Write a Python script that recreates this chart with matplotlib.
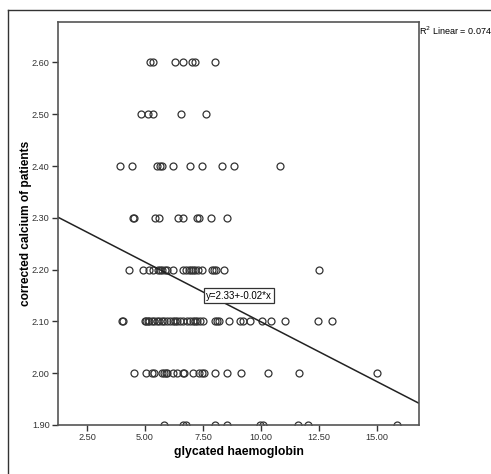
import matplotlib
matplotlib.use("Agg")
import matplotlib.pyplot as plt
from matplotlib.lines import Line2D
import numpy as np

plt.rcParams['font.family'] = ['Liberation Sans', 'DejaVu Sans']

# x values (glycated haemoglobin) for each calcium level
ca_levels = [2.60, 2.50, 2.40, 2.30, 2.20, 2.10, 2.00, 1.90]
hba1c_rows = [
    [5.22, 5.33, 6.29, 6.62, 7.01, 7.13, 8.02],
    [4.81, 5.14, 5.33, 6.54, 7.63],
    [3.92, 4.43, 5.53, 5.65, 5.72, 6.22, 6.94, 7.44, 8.33, 8.81, 10.82],
    [4.50, 4.52, 5.43, 5.60, 6.44, 6.62, 7.23, 7.34, 7.83, 8.52],
    [4.32, 4.93, 5.15, 5.36, 5.55, 5.65, 5.72, 5.85, 5.96, 6.22, 6.62, 6.77,
     6.90, 6.98, 7.06, 7.16, 7.30, 7.44, 7.88, 7.97, 8.06, 8.42, 12.51],
    [4.00, 4.04, 5.00, 5.06, 5.12, 5.19, 5.29, 5.40, 5.50, 5.62, 5.72, 5.82,
     5.94, 6.08, 6.22, 6.30, 6.37, 6.51, 6.65, 6.80, 6.94, 7.06, 7.16, 7.25,
     7.37, 7.49, 8.02, 8.09, 8.20, 8.63, 9.09, 9.21, 9.53, 10.03, 10.42,
     11.03, 12.43, 13.05],
    [4.53, 5.04, 5.29, 5.40, 5.72, 5.82, 5.91, 5.96, 6.22, 6.39, 6.62, 6.68,
     7.06, 7.34, 7.44, 7.54, 8.02, 8.52, 9.13, 10.31, 11.64, 15.01],
    [5.83, 6.62, 6.77, 8.02, 8.52, 9.96, 10.06, 11.60, 12.04, 15.85],
]

# fit line as drawn
intercept = 2.33
slope = -0.0231
xticks = [2.5, 5.0, 7.5, 10.0, 12.5, 15.0]
yticks = [1.90, 2.00, 2.10, 2.20, 2.30, 2.40, 2.50, 2.60]

x = []
y = []
for lev, row in zip(ca_levels, hba1c_rows):
    x += row
    y += [lev] * len(row)
x = np.array(x)
y = np.array(y)

fig = plt.figure(figsize=(4.91, 4.74), dpi=100)
ax = fig.add_axes([58/491, 1 - 425/474, (419 - 58)/491, (425 - 22)/474])

ax.plot(x, y, linestyle='none', marker='o', markersize=5, markerfacecolor='none',
        markeredgecolor='#333333', markeredgewidth=0.9)

xlim = (1.25, 16.8)
ylim = (1.90, 2.678)
lx = np.array(xlim)
ax.plot(lx, intercept + slope * lx, color='#222222', linewidth=1.1)
ax.set_xlim(xlim)
ax.set_ylim(ylim)

ax.set_xticks(xticks)
ax.set_xticklabels(['%.2f' % t for t in xticks])
ax.set_yticks(yticks)
ax.set_yticklabels(['%.2f' % t for t in yticks])
ax.tick_params(direction='out', length=4, width=1, labelsize=6.6, colors='#333333',
               pad=2)
for s in ax.spines.values():
    s.set_color('#555555')
    s.set_linewidth(1.2)

ax.set_xlabel('glycated haemoglobin', fontsize=8.8, fontweight='bold', labelpad=3)
ax.set_ylabel('corrected calcium of patients', fontsize=8.6, fontweight='bold',
              labelpad=0)

ax.text(9.05, 2.15, 'y=2.33+-0.02*x', fontsize=7, ha='center', va='center',
        bbox=dict(boxstyle='square,pad=0.25', facecolor='white',
                  edgecolor='#333333', linewidth=0.9))

fig.text(419/491, 1 - 31/474, 'R$^2$ Linear = 0.074', fontsize=6.5,
         ha='left', va='center')

# outer frame of the chart area
fig.add_artist(Line2D([8/491, 8/491], [0, 1 - 10/474], transform=fig.transFigure,
                      color='#333333', linewidth=1))
fig.add_artist(Line2D([8/491, 1], [1 - 10/474, 1 - 10/474],
                      transform=fig.transFigure, color='#333333', linewidth=1))

fig.savefig('out.png', dpi=100)
